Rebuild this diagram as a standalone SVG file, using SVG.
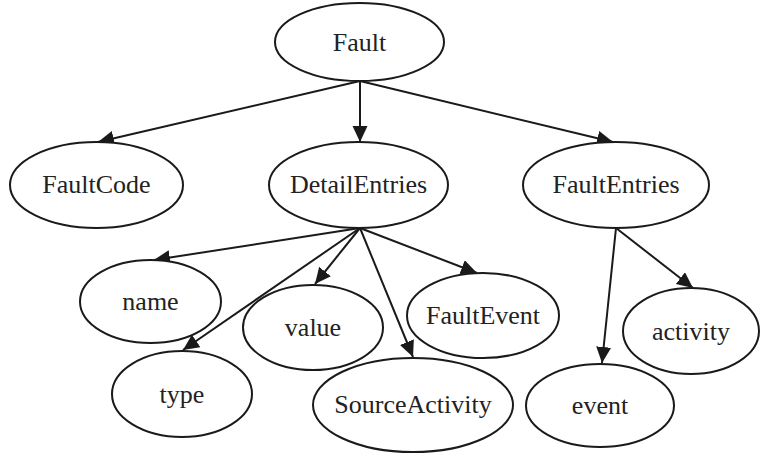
<svg xmlns="http://www.w3.org/2000/svg" width="760" height="455" viewBox="0 0 760 455">
<defs>
<marker id="arr" markerUnits="userSpaceOnUse" markerWidth="18" markerHeight="16" refX="16" refY="7.5" orient="auto">
<path d="M0,0 L16,7.5 L0,15 Z" fill="#1a1a1a"/>
</marker>
<style>
.n ellipse{fill:#fff;stroke:#1a1a1a;stroke-width:2}
.n text{font-family:"Liberation Serif","Times New Roman",serif;font-size:26px;fill:#222;text-anchor:middle}
.e path{fill:none;stroke:#1a1a1a;stroke-width:2;marker-end:url(#arr)}
</style>
</defs>
<rect width="760" height="455" fill="#fff"/>
<g id="edges" class="e">
<path d="M360,81 L98,142"/>
<path d="M360,81 L360,142"/>
<path d="M360,81 L613,142"/>
<path d="M360,228 L154,260"/>
<path d="M360,228 L183,350"/>
<path d="M360,228 L315,284"/>
<path d="M360,228 L413,357"/>
<path d="M360,228 L477,273"/>
<path d="M616,228 L602,363"/>
<path d="M616,228 L693,288"/>
</g>
<g id="Fault" class="n"><ellipse cx="359.5" cy="42" rx="84.5" ry="39"/><text x="359.5" y="51">Fault</text></g>
<g id="FaultCode" class="n"><ellipse cx="96.5" cy="185" rx="86.5" ry="43"/><text x="96.5" y="193">FaultCode</text></g>
<g id="DetailEntries" class="n"><ellipse cx="358.5" cy="185" rx="89.5" ry="43"/><text x="358.5" y="193">DetailEntries</text></g>
<g id="FaultEntries" class="n"><ellipse cx="616" cy="185" rx="93" ry="43"/><text x="616" y="193">FaultEntries</text></g>
<g id="name" class="n"><ellipse cx="150.5" cy="301.5" rx="70.5" ry="41.5"/><text x="150.5" y="310">name</text></g>
<g id="value" class="n"><ellipse cx="313" cy="327.5" rx="70" ry="42.5"/><text x="313" y="336">value</text></g>
<g id="FaultEvent" class="n"><ellipse cx="483" cy="315.5" rx="76" ry="42.5"/><text x="483" y="324">FaultEvent</text></g>
<g id="type" class="n"><ellipse cx="182" cy="394" rx="70" ry="43"/><text x="182" y="403">type</text></g>
<g id="SourceActivity" class="n"><ellipse cx="413" cy="405" rx="100" ry="47"/><text x="413" y="413">SourceActivity</text></g>
<g id="event" class="n"><ellipse cx="600" cy="405.5" rx="74" ry="41.5"/><text x="600" y="414">event</text></g>
<g id="activity" class="n"><ellipse cx="691" cy="331" rx="68" ry="43"/><text x="691" y="340">activity</text></g>
</svg>
